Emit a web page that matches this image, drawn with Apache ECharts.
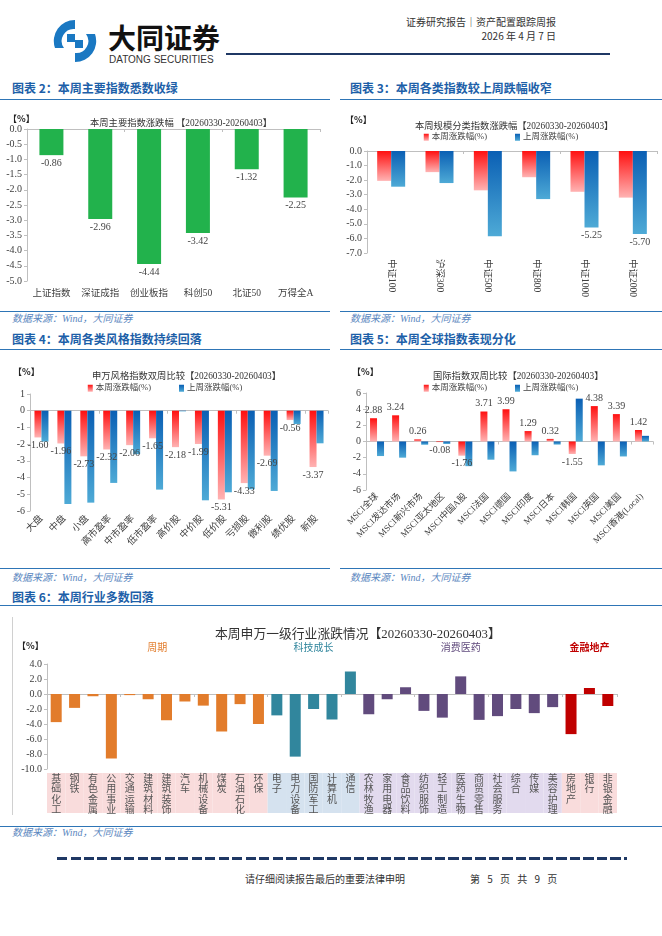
<!DOCTYPE html>
<html><head><meta charset="utf-8">
<script src="https://cdn.jsdelivr.net/npm/echarts@6/dist/echarts.min.js"></script>
<style>
body{margin:0;width:662px;height:936px;position:relative;background:#fff;font-family:"Noto Sans CJK SC",sans-serif;overflow:hidden}
.abs{position:absolute;white-space:nowrap}
.sec{position:absolute;font-weight:bold;color:#1d5fa8;font-size:12px;white-space:nowrap;line-height:14px}
.hl{position:absolute;height:0;border-top:1.2px solid #2e75b6}
.src{position:absolute;font-style:italic;color:#5b87c0;font-size:10px;font-family:"Liberation Serif","Noto Sans CJK SC",serif;white-space:nowrap;line-height:12px}
.ch{position:absolute}
</style></head>
<body>
<!-- header -->
<svg class="abs" style="left:51px;top:18px" width="48" height="46" viewBox="0 0 48 46">
  <path d="M24 2 A21 21 0 0 0 4 30 L13 30 A12 12 0 0 1 24 11 Z" fill="#1a78c2"/>
  <path d="M24 44 A21 21 0 0 0 44 16 L35 16 A12 12 0 0 1 24 35 Z" fill="#1a78c2"/>
  <rect x="16" y="16" width="8" height="8" fill="#1a78c2"/>
  <rect x="24" y="22" width="8" height="8" fill="#1a78c2"/>
</svg>
<div class="abs" style="left:108px;top:21px;font-size:28px;font-weight:bold;color:#111;line-height:32px">大同证券</div>
<div class="abs" style="left:109px;top:54px;font-size:10px;color:#333;font-family:'Liberation Sans',sans-serif;line-height:11px">DATONG SECURITIES</div>
<div class="abs" style="left:226px;top:53px;width:384px;border-top:2px solid #1f3864"></div>
<div class="abs" style="right:106px;top:16px;font-size:10px;color:#333;line-height:12px">证券研究报告｜资产配置跟踪周报</div>
<div class="abs" style="right:106px;top:30px;font-size:10px;color:#333;line-height:12px">2026 年 4 月 7 日</div>

<!-- row 1 -->
<div class="sec" style="left:12px;top:81px">图表 2：本周主要指数悉数收绿</div>
<div class="sec" style="left:350px;top:81px">图表 3：本周各类指数较上周跌幅收窄</div>
<div class="hl" style="left:0;top:99px;width:330px"></div>
<div class="hl" style="left:340px;top:99px;width:322px"></div>
<div id="c2" class="ch" style="left:0;top:100px;width:330px;height:210px"></div>
<div id="c3" class="ch" style="left:340px;top:100px;width:322px;height:210px"></div>
<div class="hl" style="left:0;top:311px;width:330px"></div>
<div class="hl" style="left:340px;top:311px;width:322px"></div>
<div class="src" style="left:12px;top:313px">数据来源：Wind，大同证券</div>
<div class="src" style="left:350px;top:313px">数据来源：Wind，大同证券</div>

<!-- row 2 -->
<div class="sec" style="left:12px;top:332px">图表 4：本周各类风格指数持续回落</div>
<div class="sec" style="left:350px;top:332px">图表 5：本周全球指数表现分化</div>
<div class="hl" style="left:0;top:349px;width:330px"></div>
<div class="hl" style="left:340px;top:349px;width:322px"></div>
<div id="c4" class="ch" style="left:0;top:352px;width:330px;height:215px"></div>
<div id="c5" class="ch" style="left:340px;top:352px;width:322px;height:215px"></div>
<div class="hl" style="left:0;top:568px;width:330px"></div>
<div class="hl" style="left:340px;top:568px;width:322px"></div>
<div class="src" style="left:12px;top:572px">数据来源：Wind，大同证券</div>
<div class="src" style="left:350px;top:572px">数据来源：Wind，大同证券</div>

<!-- row 3 -->
<div class="sec" style="left:12px;top:590px">图表 6：本周行业多数回落</div>
<div class="hl" style="left:0;top:605px;width:662px"></div>
<div class="abs" style="left:12px;top:617px;height:198px;border-left:1px solid #d0d0d0"></div>
<div id="c6" class="ch" style="left:0;top:607px;width:662px;height:218px"></div>
<div class="hl" style="left:0;top:826px;width:662px"></div>
<div class="src" style="left:12px;top:827px">数据来源：Wind，大同证券</div>

<!-- footer -->
<div class="abs" style="left:57px;top:857px;width:570px;height:3px;background:repeating-linear-gradient(90deg,#1f3864 0 10px,transparent 10px 13.5px)"></div>
<div class="abs" style="left:245px;top:873px;font-size:10px;color:#333;line-height:12px">请仔细阅读报告最后的重要法律申明</div>
<div class="abs" style="left:470px;top:873px;font-size:10px;color:#333;line-height:12px;letter-spacing:2.5px">第 5 页 共 9 页</div>

<script>
// ===== data =====
const c2Cats = ['上证指数','深证成指','创业板指','科创50','北证50','万得全A'];
const c2Vals = [-0.86,-2.96,-4.44,-3.42,-1.32,-2.25];

const c3Cats = ['中证100','沪深300','中证500','中证800','中证1000','中证2000'];
const c3This = [-2.05,-1.45,-2.70,-1.80,-2.80,-3.20];
const c3Last = [-2.45,-2.20,-5.85,-3.30,-5.25,-5.70];
const c3LastLabeled = [false,false,false,false,true,true];

const c4Cats = ['大盘','中盘','小盘','高市盈率','中市盈率','低市盈率','高价股','中价股','低价股','亏损股','微利股','绩优股','新股'];
const c4This = [-1.60,-1.96,-2.73,-2.32,-2.06,-1.65,-2.18,-1.99,-5.31,-4.33,-2.69,-0.56,-3.37];
const c4Last = [-1.85,-5.58,-5.50,-4.32,-2.60,-4.72,-0.04,-5.36,-4.88,-4.70,-4.80,-0.80,-1.95];

const c5Cats = ['MSCI全球','MSCI发达市场','MSCI新兴市场','MSCI亚太地区','MSCI中国A股','MSCI法国','MSCI德国','MSCI印度','MSCI日本','MSCI韩国','MSCI英国','MSCI美国','MSCI香港(Local)'];
const c5This = [2.88,3.24,0.26,-0.08,-1.76,3.71,3.99,1.29,0.32,-1.55,4.38,3.39,1.42];
const c5Last = [-1.80,-2.00,-0.40,-0.30,-3.05,-2.25,-3.70,-1.70,-0.38,5.30,-2.95,-1.85,0.70];

const c6Cycle = ['基础化工','钢铁','有色金属','公用事业','交通运输','建筑材料','建筑装饰','汽车','机械设备','煤炭','石油石化','环保'];
const c6Tech = ['电子','电力设备','国防军工','计算机','通信'];
const c6Consumer = ['农林牧渔','家用电器','食品饮料','纺织服饰','轻工制造','医药生物','商贸零售','社会服务','综合','传媒','美容护理'];
const c6Finance = ['房地产','银行','非银金融'];
const c6Vals = [-3.75,-1.85,-0.30,-8.60,-0.15,-0.70,-3.50,-1.00,-1.55,-5.00,-1.35,-4.00,
                -2.85,-8.35,-2.00,-3.40,3.00,
                -2.70,-0.70,0.90,-2.25,-3.15,2.35,-3.45,-2.95,-2.00,-2.55,-1.75,
                -5.35,0.80,-1.60];
const c6GroupNames = ['周期','科技成长','消费医药','金融地产'];

// ===== styles =====
const FONT = '"Liberation Serif","Noto Sans CJK SC",serif';
const AX = '#bfbfbf';
const TXT = '#404040';
const redGrad = () => new echarts.graphic.LinearGradient(0,0,0,1,[{offset:0,color:'#ff1010'},{offset:1,color:'#ffb3b3'}]);
const blueGrad = () => new echarts.graphic.LinearGradient(0,0,0,1,[{offset:0,color:'#0a5fb4'},{offset:1,color:'#4eaad6'}]);

function xAxes(cats, lab){
  return [
    {type:'category', data:cats, position:'bottom', axisLine:{show:false,onZero:false}, axisTick:{show:false},
     axisLabel:Object.assign({color:TXT,fontSize:10,fontFamily:FONT,interval:0}, lab)},
    {type:'category', data:cats, position:'bottom', axisLine:{show:true,onZero:true,lineStyle:{color:AX}},
     axisTick:{show:true,length:3,lineStyle:{color:AX}}, axisLabel:{show:false}}
  ];
}
function yAxis(min,max,interval,dec){
  return {type:'value',min:min,max:max,interval:interval,
    axisLine:{show:true,lineStyle:{color:AX}}, axisTick:{show:true,length:3,lineStyle:{color:AX}},
    splitLine:{show:false},
    axisLabel:{color:TXT,fontSize:10,fontFamily:FONT,margin:5,formatter:v=>v.toFixed(dec)}};
}
function pct(x,y){
  return {type:'text',left:x,top:y,style:{text:'【%】',font:'bold 9px "Noto Sans CJK SC"',fill:'#222'}};
}
function titleOpt(text,left,top,size){
  return {text:text,left:left,top:top,textStyle:{fontSize:size||9.3,fontWeight:'normal',color:'#333',fontFamily:FONT}};
}
function legendOpt(top){
  return {top:top,left:'center',itemWidth:5,itemHeight:7,itemGap:28,icon:'rect',
    textStyle:{fontSize:8.5,color:'#444',fontFamily:FONT,padding:[0,0,0,-2]}};
}
const lbl = {fontSize:10,color:'#444',fontFamily:FONT,distance:3};

// ===== chart 2 =====
echarts.init(document.getElementById('c2')).setOption({
  animation:false,
  title:titleOpt('本周主要指数涨跌幅 【20260330-20260403】',85,14),
  graphic:[pct(8,14)],
  grid:{left:27,right:10,top:29,bottom:29},
  xAxis:xAxes(c2Cats,{margin:8,fontSize:9.5}),
  yAxis:yAxis(-5,0,0.5,1),
  series:[{type:'bar',data:c2Vals,barWidth:24,itemStyle:{color:'#22b24c'},
    label:Object.assign({show:true,position:'bottom',formatter:p=>p.value.toFixed(2)},lbl)}]
});

// ===== chart 3 =====
echarts.init(document.getElementById('c3')).setOption({
  animation:false,
  title:titleOpt('本周规模分类指数涨跌幅【20260330-20260403】',70,17),
  graphic:[pct(5,15)],
  legend:legendOpt(28),
  grid:{left:27,right:5,top:51,bottom:57},
  xAxis:xAxes(c3Cats,{rotate:-90,margin:6,fontSize:9.5}),
  yAxis:yAxis(-7,0,1,1),
  series:[
    {name:'本周涨跌幅(%)',type:'bar',data:c3This,barWidth:14,barGap:'0%',itemStyle:{color:redGrad()}},
    {name:'上周涨跌幅(%)',type:'bar',data:c3Last.map((v,i)=>({value:v,label:{show:c3LastLabeled[i]}})),barWidth:14,
     itemStyle:{color:blueGrad()},
     label:Object.assign({show:false,position:'bottom',formatter:p=>p.value.toFixed(2)},lbl)}
  ]
});

// ===== chart 4 =====
echarts.init(document.getElementById('c4')).setOption({
  animation:false,
  title:titleOpt('申万风格指数双周比较【20260330-20260403】',87,15),
  graphic:[pct(13,15)],
  legend:legendOpt(27),
  grid:{left:30,right:2,top:42,bottom:56},
  xAxis:xAxes(c4Cats,{rotate:45,margin:6,fontSize:9.5}),
  yAxis:yAxis(-6,1,1,0),
  series:[
    {name:'本周涨跌幅(%)',type:'bar',data:c4This,barWidth:7,barGap:'0%',itemStyle:{color:redGrad()},
     label:Object.assign({show:true,position:'bottom',formatter:p=>p.value.toFixed(2)},lbl)},
    {name:'上周涨跌幅(%)',type:'bar',data:c4Last,barWidth:7,itemStyle:{color:blueGrad()}}
  ]
});

// ===== chart 5 =====
echarts.init(document.getElementById('c5')).setOption({
  animation:false,
  title:titleOpt('国际指数双周比较【20260330-20260403】',88,15),
  graphic:[pct(12,15)],
  legend:legendOpt(27),
  grid:{left:26,right:9,top:41,bottom:77},
  xAxis:xAxes(c5Cats,{rotate:45,margin:5,fontSize:9}),
  yAxis:yAxis(-6,6,2,0),
  series:[
    {name:'本周涨跌幅(%)',type:'bar',barWidth:7,barGap:'0%',itemStyle:{color:redGrad()},
     data:c5This.map(v=>({value:v,label:{position:v>=0?'top':'bottom'}})),
     label:Object.assign({show:true,formatter:p=>p.value.toFixed(2)},lbl)},
    {name:'上周涨跌幅(%)',type:'bar',data:c5Last,barWidth:7,itemStyle:{color:blueGrad()}}
  ]
});

// ===== chart 6 =====
const groups = [c6Cycle,c6Tech,c6Consumer,c6Finance];
const barColors = ['#e27c2b','#31869d','#614b7d','#c00000'];
const bandColors = ['#f9dcdc','#d5e2ef','#e2daee','#f9dcdc'];
const groupText = ['#e27c2b','#31869d','#614b7d','#c00000'];
const c6Cats = [].concat(...groups);
const c6Grp = [];
groups.forEach((g,gi)=>g.forEach(()=>c6Grp.push(gi)));

const ch6 = echarts.init(document.getElementById('c6'));
ch6.setOption({
  animation:false,
  title:titleOpt('本周申万一级行业涨跌情况【20260330-20260403】',210,16,12.8),
  grid:[{left:47,right:45,top:57,bottom:56},{left:47,right:45,top:166,height:40}],
  xAxis:[
    {type:'category',gridIndex:0,data:c6Cats,axisLine:{onZero:true,lineStyle:{color:AX}},
     axisTick:{show:true,length:3,lineStyle:{color:AX}},axisLabel:{show:false}},
    {type:'category',gridIndex:1,data:c6Cats,axisLine:{show:false},axisTick:{show:false},axisLabel:{show:false}}
  ],
  yAxis:[
    Object.assign(yAxis(-10,4,2,1),{gridIndex:0}),
    {type:'value',gridIndex:1,min:0,max:1,show:false}
  ],
  series:[
    {type:'bar',xAxisIndex:0,yAxisIndex:0,barWidth:11,
     data:c6Vals.map((v,i)=>({value:v,itemStyle:{color:barColors[c6Grp[i]]}}))},
    {type:'bar',xAxisIndex:1,yAxisIndex:1,barWidth:'100%',silent:true,
     data:c6Cats.map((c,i)=>({value:1,itemStyle:{color:bandColors[c6Grp[i]]}})),
     label:{show:true,position:'insideTop',distance:1,formatter:p=>p.name.split('').join('\n'),
       fontSize:10,lineHeight:10.5,color:'#555',fontFamily:FONT}}
  ]
});
// group labels at group centres
const gl = [];
let start = 0;
groups.forEach((g,gi)=>{
  const mid = start + (g.length-1)/2;
  const x = (ch6.convertToPixel({xAxisIndex:0},c6Cats[Math.floor(mid)]) + ch6.convertToPixel({xAxisIndex:0},c6Cats[Math.ceil(mid)]))/2;
  gl.push({type:'text',x:x,y:35,style:{text:c6GroupNames[gi],align:'center',fill:groupText[gi],
    font:(gi===3?'bold ':'')+'10px "Noto Sans CJK SC"'}});
  start += g.length;
});
gl.push({type:'text',left:17,top:34,style:{text:'【%】',font:'bold 9px "Noto Sans CJK SC"',fill:'#222'}});
ch6.setOption({graphic:gl});
</script>
</body></html>
